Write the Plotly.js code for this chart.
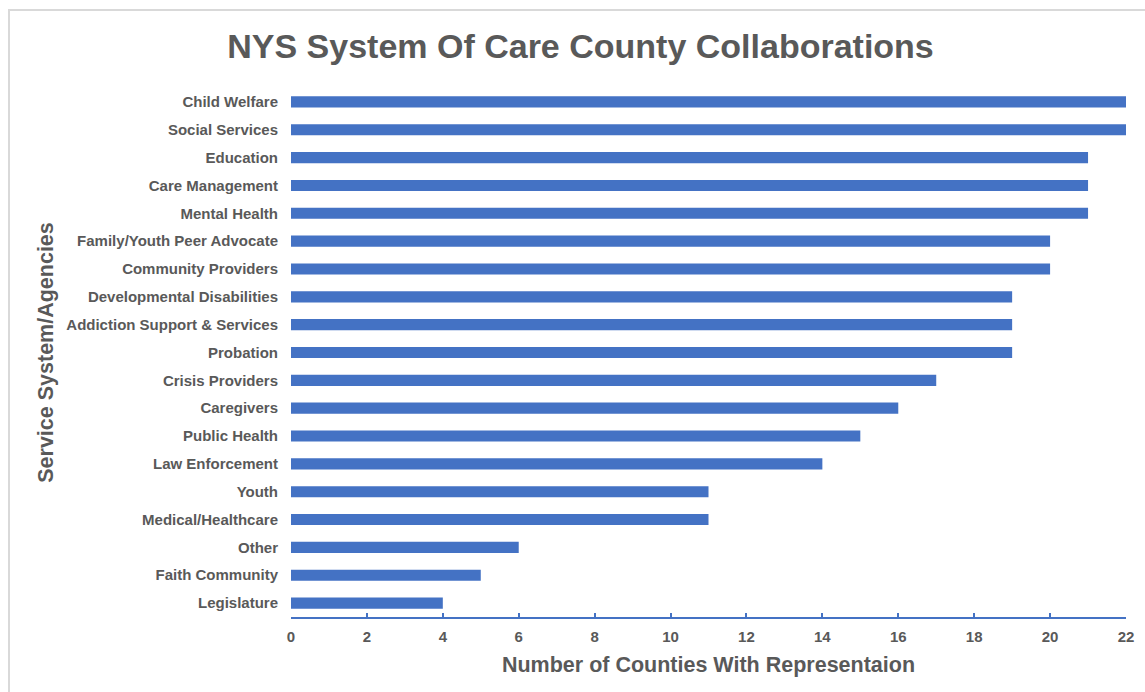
<!DOCTYPE html>
<html>
<head>
<meta charset="utf-8">
<script src="https://cdn.plot.ly/plotly-3.0.1.min.js"></script>
<style>
  html, body { margin: 0; padding: 0; background: #fff; }
  #frame { position: absolute; left: 8px; top: 9px; width: 1145px; height: 700px;
           border-left: 2px solid #d9d9d9; border-top: 2px solid #d9d9d9; }
  #chart { position: absolute; left: 0; top: 0; width: 1145px; height: 692px; }
</style>
</head>
<body>
<div id="frame"></div>
<div id="chart"></div>
<script>
const categories = [
  "Child Welfare", "Social Services", "Education", "Care Management", "Mental Health",
  "Family/Youth Peer Advocate", "Community Providers", "Developmental Disabilities",
  "Addiction Support & Services", "Probation", "Crisis Providers", "Caregivers",
  "Public Health", "Law Enforcement", "Youth", "Medical/Healthcare", "Other",
  "Faith Community", "Legislature"
];
const counts = [22, 22, 21, 21, 21, 20, 20, 19, 19, 19, 17, 16, 15, 14, 11, 11, 6, 5, 4];
const xTicks = [0, 2, 4, 6, 8, 10, 12, 14, 16, 18, 20, 22];

const gray = "#595959";
const font = "Liberation Sans, Arial, sans-serif";

const trace = {
  type: "bar",
  orientation: "h",
  x: counts,
  y: categories,
  marker: { color: "#4472C4" },
  hoverinfo: "x+y"
};

const layout = {
  width: 1145, height: 692,
  paper_bgcolor: "rgba(0,0,0,0)",
  plot_bgcolor: "rgba(0,0,0,0)",
  margin: { l: 291, r: 19, t: 88, b: 75 },
  bargap: 0.6,
  showlegend: false,
  font: { family: font, color: gray },
  title: {
    text: "<b>NYS System Of Care County Collaborations</b>",
    font: { family: font, size: 34, color: gray },
    x: 0.507, xanchor: "center", y: 0.933, yanchor: "middle"
  },
  xaxis: {
    range: [0, 22],
    tickvals: xTicks,
    ticktext: xTicks.map(String),
    showgrid: false, zeroline: false,
    showline: true, linecolor: "#4472C4", linewidth: 2,
    ticks: "inside", ticklen: 4, tickcolor: "#4472C4", tickwidth: 2,
    tickfont: { family: font, size: 15, color: gray, weight: "bold" },
    ticklabelstandoff: 5,
    title: { text: "<b>Number of Counties With Representaion</b>",
             font: { family: font, size: 21.5, color: gray }, standoff: 13 }
  },
  yaxis: {
    type: "category",
    categoryorder: "array", categoryarray: categories,
    autorange: "reversed",
    showgrid: false, zeroline: false, showline: false,
    ticks: "",
    tickfont: { family: font, size: 15, color: gray, weight: "bold" },
    ticklabelstandoff: 12,
    title: { text: "<b>Service System/Agencies</b>",
             font: { family: font, size: 21.5, color: gray }, standoff: 6 }
  }
};

Plotly.newPlot("chart", [trace], layout, { displayModeBar: false, staticPlot: true });
</script>
</body>
</html>
